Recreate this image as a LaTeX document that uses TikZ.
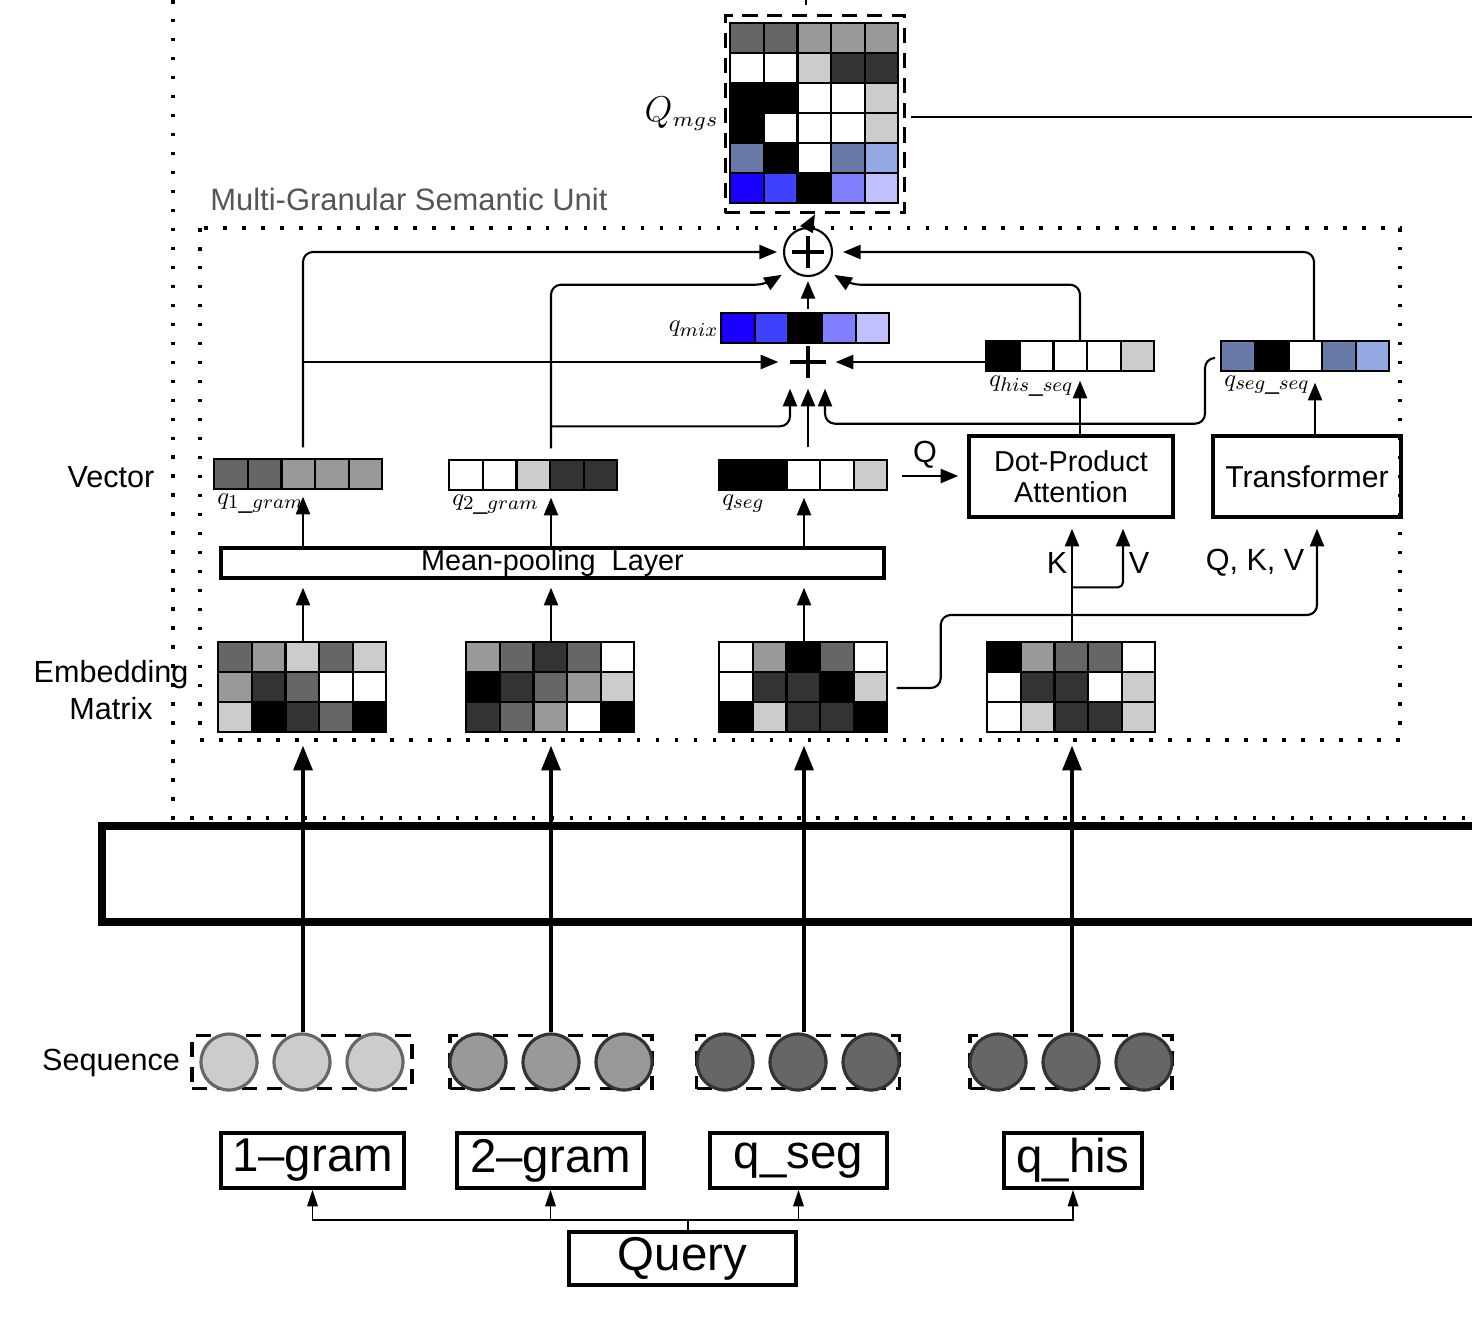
\documentclass[tikz,border=0pt]{standalone}
\usepackage{fontspec}
\setmainfont{Liberation Sans}
\usetikzlibrary{arrows.meta,calc,fit}
\DeclareMathSizes{10}{10}{8}{6}
\DeclareMathSizes{12.5}{12.5}{7.5}{6}

\definecolor{gDark}{HTML}{333333}
\definecolor{gMid}{HTML}{666666}
\definecolor{gLight}{HTML}{999999}
\definecolor{gPale}{HTML}{CCCCCC}
\definecolor{bDeep}{HTML}{1A00FF}
\definecolor{bBright}{HTML}{4040FF}
\definecolor{bSoft}{HTML}{8080FF}
\definecolor{bPale}{HTML}{C0C0FF}
\definecolor{bSlate}{HTML}{6A7AA8}
\definecolor{bSky}{HTML}{94A8E3}
\definecolor{unitGray}{HTML}{555555}

% cells of a vector / matrix, rows given as {{..},{..}}
\newcommand{\drawcells}[2]{%
  \foreach \row [count=\r from 0] in {#2} {
    \foreach \c [count=\i from 0] in \row {
      \draw[cell, fill=\c] ($(#1.north west)+(33.6*\i,30*\r)$) rectangle ++(33.6,30);
    }
  }
}

\begin{document}
\begin{tikzpicture}[x=0.1mm, y=-0.1mm,
    font=\fontsize{8.7}{10.4}\selectfont,
    cell/.style={draw=black, line width=0.6pt},
    vec/.style={minimum width=16.8mm, minimum height=3mm, inner sep=0pt},
    emb/.style={minimum width=16.8mm, minimum height=9mm, inner sep=0pt},
    lay/.style={draw, line width=1pt, inner sep=0pt},
    link/.style={line width=0.6pt},
    arr/.style={link, -{Triangle[length=5pt, width=4pt]}},
    bigarr/.style={line width=0.9pt, -{Triangle[length=7pt, width=5.4pt]}},
    qarr/.style={line width=0.45pt, -{Triangle[length=4.7pt, width=3pt]}},
    dotline/.style={line width=1pt, dash pattern=on 1pt off 4.4pt},
    dashbox/.style={draw, line width=0.9pt, dash pattern=on 4.3pt off 2.8pt},
    tok/.style={circle, minimum size=5.6mm, line width=0.9pt, inner sep=0pt},
    txtbox/.style={draw, line width=1pt, font=\fontsize{13.5}{15}\selectfont, inner sep=0pt, minimum height=5.5mm},
    sub/.style={font=\fontsize{10}{12}\selectfont, inner sep=1pt, scale=0.7, transform shape}]
  \useasboundingbox (0,0) rectangle (1472,1332);

  % frames
  \draw[dotline] (173,0) |- (1500,818);
  \draw[dotline] (200,228) rectangle (1400,740);
  \node[anchor=west, text=unitGray, font=\fontsize{8.8}{10}\selectfont] (unit) at (198,199) {Multi-Granular Semantic Unit};
  \draw[line width=2.3pt] (1500,826) -| (102,922) -- (1500,922);

  % row labels
  \node (lvec) at (111,477) {Vector};
  \node[align=center] (lemb) at (111,690) {Embedding\\Matrix};
  \node (lseq) at (111,1063) {Sequence};

  % query and its views
  \node[txtbox, minimum width=18.3mm] (gram1) at (312.5,1160.5) {1–gram};
  \node[txtbox, minimum width=18.7mm] (gram2) at (550.5,1160.5) {2–gram};
  \node[txtbox, minimum width=17.7mm] (qsegbox) at (798.5,1160.5) {q\_seg};
  \node[txtbox, minimum width=13.8mm] (qhisbox) at (1073,1160.5) {q\_his};
  \node[txtbox, minimum width=22.7mm, minimum height=5.3mm] (query) at (682.5,1258.5) {Query};
  \coordinate (bus) at (688,1220);
  \draw[qarr, -] (query.north -| bus) -- (bus);
  \foreach \t in {gram1,gram2,qsegbox,qhisbox}
    \draw[qarr] (bus) -| (\t.south);

  % token sequences
  \foreach \g/\x/\w/\f/\d in {1/302/22.0/gPale/gMid, 2/551/20.2/gLight/gDark,
      3/798/20.3/gMid/gDark, 4/1071/20.2/gMid/gDark} {
    \node[dashbox, minimum width=\w mm, minimum height=5.3mm] (seq\g) at (\x,1062) {};
    \foreach \k in {1,2,3}
      \node[tok, fill=\f, draw=\d] (tok\g\k) at ($(seq\g)+(73*\k-146,0)$) {};
  }

  % embedding matrices
  \node[emb] (emb1) at (303,688) {};
  \drawcells{emb1}{{gMid,gLight,gPale,gMid,gPale},{gLight,gDark,gMid,white,white},{gPale,black,gDark,gMid,black}}
  \node[emb] (emb2) at (551,688) {};
  \drawcells{emb2}{{gLight,gMid,gDark,gMid,white},{black,gDark,gMid,gLight,gPale},{gDark,gMid,gLight,white,black}}
  \node[emb] (emb3) at (804,688) {};
  \drawcells{emb3}{{white,gLight,black,gMid,white},{white,gDark,gDark,black,gPale},{black,gPale,gDark,gDark,black}}
  \node[emb] (emb4) at (1072,688) {};
  \drawcells{emb4}{{black,gLight,gMid,gMid,white},{white,gDark,gDark,white,gPale},{white,gPale,gDark,gDark,gPale}}

  \foreach \g/\e in {1/emb1,2/emb2,3/emb3,4/emb4}
    \draw[bigarr, shorten >=1.2mm] (\e.south |- tok\g2.north) -- (\e.south);

  % pooling
  \node[lay, minimum width=66.3mm, minimum height=3mm, font=\fontsize{8.2}{9}\selectfont] (pool) at (552.5,563) {Mean-pooling\ \ Layer};

  % vectors
  \node[vec] (q1gram) at (299,475) {};
  \drawcells{q1gram}{{gMid,gMid,gLight,gLight,gLight}}
  \node[sub, anchor=north west] (l1gram) at (q1gram.south west) {$q_{1\_gram}$};
  \node[vec] (q2gram) at (534,476) {};
  \drawcells{q2gram}{{white,white,gPale,gDark,gDark}}
  \node[sub, anchor=north west] (l2gram) at (q2gram.south west) {$q_{2\_gram}$};
  \node[vec] (qseg) at (804,476) {};
  \drawcells{qseg}{{black,black,white,white,gPale}}
  \node[sub, anchor=north west] (lseg) at (qseg.south west) {$q_{seg}$};
  \node[vec] (qhis) at (1071,357) {};
  \drawcells{qhis}{{black,white,white,white,gPale}}
  \node[sub, anchor=north west] (lhis) at (qhis.south west) {$q_{his\_seq}$};
  \node[vec] (qsegseq) at (1306,357) {};
  \drawcells{qsegseq}{{bSlate,black,white,bSlate,bSky}}
  \node[sub, anchor=north west] (lsegseq) at (qsegseq.south west) {$q_{seg\_seq}$};
  \node[vec] (qmix) at (806,329) {};
  \drawcells{qmix}{{bDeep,bBright,black,bSoft,bPale}}
  \node[sub, anchor=east] (lmix) at (qmix.west) {$q_{mix}$};

  \foreach \e/\v in {emb1/q1gram,emb2/q2gram,emb3/qseg} {
    \draw[arr, shorten >=0.8mm] (\e.north) -- (\e.north |- pool.south);
    \draw[arr, shorten >=0.6mm] (\e.north |- pool.north) -- (\e.north |- \v.south);
  }

  % attention and transformer
  \node[lay, minimum width=20.4mm, minimum height=8.1mm, align=center, font=\fontsize{8.2}{8.8}\selectfont] (dot) at (1071,476.5) {Dot-Product\\Attention};
  \node[lay, minimum width=18.8mm, minimum height=8.1mm, font=\fontsize{8.6}{10}\selectfont] (trans) at (1307,476.5) {Transformer};

  \draw[arr, shorten <=1.3mm, shorten >=0.9mm] (qseg.east) -- (qseg.east -| dot.west);
  \node (lq) at (925,455) {Q};
  \draw[arr, shorten >=1mm] (emb4.north) -- (emb4.north |- dot.south);
  \draw[arr, rounded corners=0.5mm, shorten >=1mm] ($(emb4.north)+(0,-55)$) -| ($(dot.south)+(52,0)$);
  \node (lk) at (1057,563) {K};
  \node (lv) at (1139,563) {V};
  \draw[arr, rounded corners=1mm, shorten <=0.8mm, shorten >=1mm] (emb3.east) -| ($(emb3.east)+(52,-73)$) -| ($(trans.south)+(10,0)$);
  \node (lqkv) at (1255,563) {Q, K, V};
  \draw[arr, shorten >=0.8mm] ([xshift=0.9mm]dot.north) -- ([xshift=0.9mm]qhis.south);
  \draw[arr, shorten >=1mm] ([xshift=0.8mm]trans.north) -- ([xshift=0.8mm]trans.north |- qsegseq.south);

  % mixing
  \node[minimum width=3.4mm, minimum height=3mm, inner sep=0pt] (plus) at (808,362) {};
  \draw[line width=1.2pt] (plus.west) -- (plus.east) (plus.north) -- (plus.south);
  \node[circle, draw, line width=0.6pt, minimum size=4.8mm, inner sep=0pt] (sum) at (808,252) {};
  \draw[line width=1.2pt] ($(sum)+(-16,0)$) -- ($(sum)+(16,0)$) ($(sum)+(0,-16)$) -- ($(sum)+(0,16)$);

  \draw[arr, shorten >=1.2mm] (emb1 |- plus) -- (plus.west);
  \draw[arr, rounded corners=1mm, shorten >=1.1mm] ($(emb2 |- q2gram.north)+(0,-34)$) -| ($(plus.south)+(-18,0)$);
  \draw[arr, shorten <=1.3mm, shorten >=1.1mm] (plus |- qseg.north) -- (plus.south);
  \draw[arr, rounded corners=1mm, shorten >=1.1mm] ($(qsegseq.west)+(-8,1)$) -| ($(plus.south)+(397,46)$) -| ($(plus.south)+(17,0)$);
  \draw[arr, shorten >=1mm] (qhis.west |- plus) -- (plus.east);
  \draw[arr, shorten <=0.4mm, shorten >=0.4mm] (sum |- qmix.north) -- (sum.south);

  \draw[arr, rounded corners=1mm, shorten <=1.2mm, shorten >=0.6mm] (emb1 |- q1gram.north) |- (sum.west);
  \draw[arr, rounded corners=1mm, shorten <=1.2mm, shorten >=1mm] (emb2 |- q2gram.north) |- ($(sum.south west)+(-25,15)$) -- (sum.south west);
  \draw[arr, rounded corners=1mm, shorten >=1mm] ([xshift=0.9mm]qhis.north) |- ($(sum.south east)+(25,15)$) -- (sum.south east);
  \draw[arr, rounded corners=1mm, shorten >=1mm] ([xshift=0.8mm]qsegseq.north) |- (sum.east);

  % output matrix
  \node[inner sep=0pt, minimum width=16.8mm, minimum height=18mm] (qmgs) at (815,114) {};
  \drawcells{qmgs}{{gMid,gMid,gLight,gLight,gLight},{white,white,gPale,gDark,gDark},{black,black,white,white,gPale},{black,white,white,white,gPale},{bSlate,black,white,bSlate,bSky},{bDeep,bBright,black,bSoft,bPale}}
  \node[dashbox, fit=(qmgs), inner xsep=0.5mm, inner ysep=0.8mm] (qmgsbox) {};
  \node[anchor=east, font=\fontsize{12.5}{14}\selectfont, inner sep=0.5mm, scale=0.85, transform shape] (lmgs) at (qmgsbox.west) {$Q_{mgs}$};
  \draw[arr] (sum.north) -- (qmgsbox.south);
  \coordinate (rout) at (1472,117);
  \coordinate (tout) at (806,0);
  \draw[link] ([xshift=0.5mm]qmgsbox.east |- rout) -- (rout);
  \draw[link] (tout) -- ++(0,5);
\end{tikzpicture}
\end{document}
